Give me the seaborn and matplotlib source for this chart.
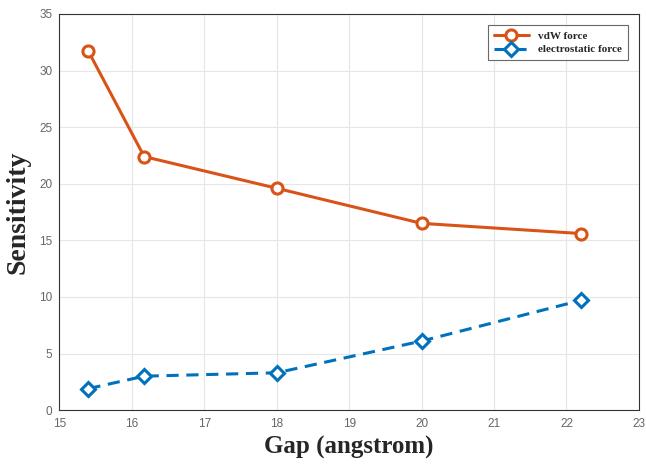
import matplotlib
matplotlib.use("Agg")
import matplotlib.pyplot as plt
import seaborn as sns
import pandas as pd

gap_vdw = [15.4, 16.17, 18.0, 20.0, 22.2]
vdw_force = [31.7, 22.4, 19.6, 16.5, 15.6]
gap_elec = [15.4, 16.17, 18.0, 20.0, 22.2]
elec_force = [1.9, 3.0, 3.3, 6.1, 9.7]
x_ticks = [15, 16, 17, 18, 19, 20, 21, 22, 23]
y_ticks = [0, 5, 10, 15, 20, 25, 30, 35]

sns.set_theme(style="whitegrid")
plt.rcParams['font.family'] = ['Liberation Sans', 'DejaVu Sans']

fig = plt.figure(figsize=(6.46, 4.65), dpi=100)
ax = fig.add_axes([0.092, 0.118, 0.897, 0.852])

df1 = pd.DataFrame({"gap": gap_vdw, "val": vdw_force})
df2 = pd.DataFrame({"gap": gap_elec, "val": elec_force})

sns.lineplot(data=df1, x="gap", y="val", ax=ax, color="#D95319", lw=2.2,
             marker="o", markersize=8, markerfacecolor="white",
             markeredgecolor="#D95319", markeredgewidth=2.2, label="vdW force")
sns.lineplot(data=df2, x="gap", y="val", ax=ax, color="#0072BD", lw=2.2,
             marker="D", markersize=7, markerfacecolor="white",
             markeredgecolor="#0072BD", markeredgewidth=2.2,
             linestyle=(0, (4, 2.5)), label="electrostatic force")

ax.set_xlim(15, 23)
ax.set_ylim(0, 35)
ax.set_xticks(x_ticks)
ax.set_yticks(y_ticks)
ax.tick_params(axis="both", labelsize=8.5, labelcolor="#666666", direction="in",
               length=3, color="#444444", width=0.6)
ax.tick_params(axis="x", pad=6)
ax.tick_params(axis="y", pad=5)
ax.grid(True, color="#e6e6e6", lw=0.8)
ax.set_facecolor("white")
for s in ax.spines.values():
    s.set_color("#333333")
    s.set_linewidth(0.8)
    s.set_visible(True)

ax.set_xlabel("Gap (angstrom)", fontsize=18, fontweight="bold",
              family=["Liberation Serif", "DejaVu Serif"], labelpad=4)
ax.set_ylabel("Sensitivity", fontsize=20, fontweight="bold",
              family=["Liberation Serif", "DejaVu Serif"], labelpad=6)

leg = ax.legend(loc="upper right", bbox_to_anchor=(0.99, 0.985),
                prop={"family": ["Liberation Serif"], "weight": "bold", "size": 8},
                frameon=True, fancybox=False, edgecolor="#444444",
                handlelength=3.2, borderpad=0.5, labelspacing=0.35)
leg.get_frame().set_linewidth(0.8)

fig.savefig("out.png", dpi=100, facecolor="white")
